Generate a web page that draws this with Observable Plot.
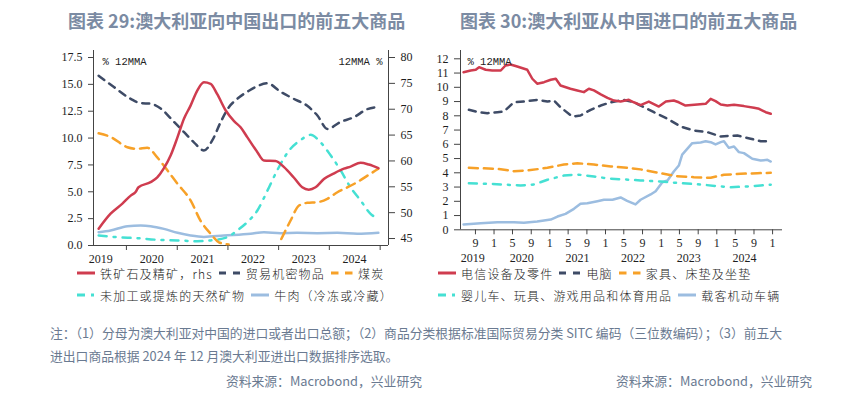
<!DOCTYPE html>
<html><head><meta charset="utf-8">
<script src="https://cdn.jsdelivr.net/npm/d3@7"></script>
<script src="https://cdn.jsdelivr.net/npm/@observablehq/plot@0.6"></script>
<style>
body{margin:0;background:#fff;}
#root{position:relative;width:853px;height:397px;overflow:hidden;background:#fff;font-family:"Noto Sans CJK SC","Noto Sans",sans-serif;}
.title{position:absolute;top:7px;line-height:26px;font-size:18px;font-weight:bold;color:#7b8ba3;white-space:nowrap;}
.chart{position:absolute;top:0;}
.legend{position:absolute;display:flex;align-items:center;height:18px;font-size:12px;font-weight:300;letter-spacing:1.2px;color:#222;white-space:nowrap;}
.legend svg{display:block;margin-right:5px;flex:none;}
.legend .item{display:flex;align-items:center;margin-right:6px;}
.note{position:absolute;font-size:12.8px;line-height:18px;color:#6a7a91;white-space:nowrap;}
</style></head><body><div id="root"></div>
<script>
// ---------- DATA: exports to China (left chart) ----------
const exportNames = ["铁矿石及精矿，rhs","贸易机密物品","煤炭","未加工或提炼的天然矿物","牛肉（冷冻或冷藏）"];
const ironOre = [["2019-06-15",46.9],["2019-09-09",49.8],["2019-12-03",51.75],["2020-02-01",53.3],["2020-03-07",54.0],["2020-03-28",54.9],["2020-06-23",55.9],["2020-08-10",56.8],["2020-09-25",58.5],["2020-11-15",61.1],["2021-01-03",64.6],["2021-02-19",68.2],["2021-04-07",70.7],["2021-05-25",73.6],["2021-07-12",75.2],["2021-08-29",74.9],["2021-10-16",72.9],["2021-12-15",69.8],["2022-02-14",67.7],["2022-04-02",66.5],["2022-05-20",64.6],["2022-08-01",61.7],["2022-09-17",60.1],["2022-12-10",60.0],["2023-02-09",58.8],["2023-04-20",56.8],["2023-06-20",54.9],["2023-08-06",54.45],["2023-09-24",54.9],["2023-11-23",56.5],["2024-02-04",57.6],["2024-04-15",58.5],["2024-06-02",58.9],["2024-08-13",59.65],["2024-10-12",59.3],["2024-12-19",58.6]];
const confidential = [["2019-06-15",15.8],["2019-10-03",14.75],["2020-02-01",13.65],["2020-04-12",13.25],["2020-06-23",13.2],["2020-09-04",12.75],["2020-12-09",11.5],["2021-02-19",10.55],["2021-05-01",9.6],["2021-07-12",8.85],["2021-09-11",9.8],["2021-11-10",11.5],["2022-01-09",12.9],["2022-03-09",13.65],["2022-06-01",14.4],["2022-07-19",14.75],["2022-10-12",15.1],["2023-01-16",14.3],["2023-04-20",13.65],["2023-07-26",13.0],["2023-10-07",12.1],["2023-12-18",10.85],["2024-03-22",11.5],["2024-06-27",11.95],["2024-10-01",12.7],["2024-12-19",12.9]];
const coal = [["2019-06-15",10.45],["2019-09-09",10.1],["2020-01-08",9.15],["2020-03-19",9.0],["2020-05-30",9.1],["2020-08-10",8.2],["2020-10-22",7.0],["2021-01-03",5.75],["2021-04-07",4.2],["2021-06-18",2.3],["2021-08-29",1.1],["2021-10-28",0.3],["2022-01-06",0.1],["2022-06-01",null],["2023-01-20",0.6],["2023-03-27",2.3],["2023-05-26",3.7],["2023-07-26",3.97],["2023-10-07",4.03],["2023-12-18",4.35],["2024-02-28",4.96],["2024-05-09",5.4],["2024-07-20",5.9],["2024-10-01",6.5],["2024-12-19",7.15]];
const minerals = [["2019-06-15",0.93],["2019-10-27",0.77],["2020-03-19",0.68],["2020-08-10",0.53],["2021-01-03",0.47],["2021-05-25",0.4],["2021-08-29",0.47],["2021-12-27",0.77],["2022-03-09",1.4],["2022-05-20",2.17],["2022-08-01",3.26],["2022-10-12",5.1],["2022-12-22",7.0],["2023-03-27",9.0],["2023-06-07",9.8],["2023-08-18",10.3],["2023-10-30",9.6],["2024-01-10",8.4],["2024-03-22",7.0],["2024-06-02",5.4],["2024-08-13",4.2],["2024-10-24",2.95],["2024-12-19",2.5]];
const beef = [["2019-06-15",1.24],["2019-09-09",1.4],["2020-01-08",1.8],["2020-04-12",1.86],["2020-06-23",1.8],["2020-09-27",1.55],["2021-01-03",1.18],["2021-04-07",0.93],["2021-07-12",0.8],["2021-12-03",0.93],["2022-06-13",1.09],["2022-09-17",1.24],["2023-01-16",1.15],["2023-05-15",1.18],["2023-10-07",1.15],["2024-02-28",1.18],["2024-07-20",1.09],["2024-12-19",1.18]];

// ---------- DATA: imports from China (right chart) ----------
const importNames = ["电信设备及零件","电脑","家具、床垫及坐垫","婴儿车、玩具、游戏用品和体育用品","载客机动车辆"];
const telecom = [["2019-06-15",11.06],["2019-08-01",11.18],["2019-09-03",11.23],["2019-09-25",11.41],["2019-11-07",11.23],["2019-12-20",11.18],["2020-02-14",11.18],["2020-03-16",11.53],["2020-04-18",11.6],["2020-06-01",11.46],["2020-08-06",11.23],["2020-09-08",10.6],["2020-10-10",10.25],["2020-11-24",10.36],["2021-01-07",10.53],["2021-02-09",10.6],["2021-03-12",10.13],["2021-05-16",9.9],["2021-06-30",9.78],["2021-08-12",9.66],["2021-09-14",9.9],["2021-10-17",9.78],["2021-12-01",9.5],["2022-01-14",9.26],["2022-02-26",9.07],["2022-04-10",9.0],["2022-06-03",9.12],["2022-07-06",8.95],["2022-08-19",8.75],["2022-10-12",9.0],["2022-12-17",8.65],["2023-02-01",9.0],["2023-03-25",9.07],["2023-04-27",8.95],["2023-06-10",8.72],["2023-08-26",8.79],["2023-10-20",8.84],["2023-11-22",9.19],["2023-12-24",9.03],["2024-01-27",8.79],["2024-03-10",8.72],["2024-04-23",8.77],["2024-06-27",8.68],["2024-09-01",8.56],["2024-10-04",8.49],["2024-11-17",8.25],["2024-12-20",8.14]];
const computers = [["2019-07-20",8.42],["2019-09-25",8.25],["2019-11-18",8.18],["2020-01-23",8.25],["2020-03-06",8.3],["2020-05-10",8.95],["2020-07-15",9.0],["2020-10-10",9.12],["2020-12-16",9.0],["2021-01-29",9.07],["2021-03-12",8.6],["2021-05-28",7.95],["2021-07-21",8.02],["2021-09-26",8.42],["2021-12-01",8.72],["2022-02-05",8.95],["2022-05-01",9.12],["2022-07-06",8.95],["2022-08-19",8.72],["2022-11-15",8.25],["2023-02-12",7.79],["2023-05-08",7.25],["2023-08-04",6.97],["2023-11-01",6.85],["2024-01-27",6.55],["2024-05-15",6.62],["2024-08-10",6.39],["2024-10-15",6.22],["2024-12-20",6.2]];
const furniture = [["2019-07-20",4.35],["2020-01-23",4.28],["2020-05-10",4.11],["2020-08-06",4.16],["2020-12-16",4.35],["2021-04-03",4.58],["2021-06-30",4.67],["2021-10-17",4.58],["2022-02-05",4.44],["2022-05-23",4.35],["2022-08-19",4.24],["2022-12-29",3.97],["2023-04-16",3.76],["2023-08-04",3.69],["2023-11-22",3.65],["2024-02-17",3.86],["2024-06-05",3.93],["2024-09-23",3.97],["2024-12-20",4.0]];
const toys = [["2019-07-20",3.27],["2019-11-18",3.23],["2020-03-27",3.16],["2020-06-23",3.11],["2020-09-19",3.18],["2020-12-16",3.51],["2021-04-03",3.81],["2021-06-30",3.88],["2021-10-17",3.74],["2022-02-05",3.58],["2022-06-14",3.51],["2022-08-19",3.46],["2022-12-29",3.39],["2023-05-08",3.27],["2023-09-17",3.18],["2024-01-05",3.06],["2024-04-01",2.99],["2024-07-19",3.04],["2024-10-15",3.11],["2024-12-20",3.16]];
const vehicles = [["2019-06-15",0.37],["2019-10-05",0.46],["2020-01-23",0.53],["2020-05-10",0.53],["2020-07-15",0.49],["2020-10-10",0.58],["2021-01-07",0.72],["2021-02-20",0.93],["2021-04-14",1.12],["2021-06-08",1.47],["2021-07-21",1.82],["2021-09-04",1.87],["2021-11-09",2.01],["2021-12-22",2.11],["2022-02-16",2.11],["2022-04-10",2.27],["2022-05-23",2.03],["2022-07-17",1.78],["2022-08-19",2.11],["2022-10-24",2.48],["2022-11-26",2.71],["2023-01-09",3.34],["2023-02-12",3.46],["2023-03-25",4.09],["2023-04-27",4.51],["2023-05-19",5.28],["2023-06-21",5.68],["2023-07-24",6.08],["2023-09-17",6.13],["2023-10-20",6.22],["2023-11-22",6.15],["2023-12-24",5.99],["2024-01-27",6.15],["2024-02-17",6.22],["2024-03-20",5.75],["2024-04-23",5.85],["2024-05-25",5.45],["2024-06-27",5.38],["2024-08-21",4.98],["2024-10-15",4.86],["2024-11-28",4.91],["2024-12-20",4.79]];

// ---------- TICKS & TEXT ----------
const lhsTicks = [0,2.5,5,7.5,10,12.5,15,17.5];
const rhsTicks = [45,50,55,60,65,70,75,80];
const importTicks = [0,1,2,3,4,5,6,7,8,9,10,11,12];
const yearLabels = [2019,2020,2021,2022,2023,2024];
const yearBounds = [2020,2021,2022,2023,2024,2025];
const monthTicks = ["2019-09","2020-01","2020-05","2020-09","2021-01","2021-05","2021-09","2022-01","2022-05","2022-09","2023-01","2023-05","2023-09","2024-01","2024-05","2024-09","2025-01"];
const titleLeft = "图表 29:澳大利亚向中国出口的前五大商品";
const titleRight = "图表 30:澳大利亚从中国进口的前五大商品";
const unitLeft = "% 12MMA", unitRight = "12MMA %";
const noteLines = ["注：（1）分母为澳大利亚对中国的进口或者出口总额；（2）商品分类根据标准国际贸易分类 SITC 编码（三位数编码）；（3）前五大","进出口商品根据 2024 年 12 月澳大利亚进出口数据排序选取。"];
const sourceText = "资料来源：Macrobond，兴业研究";

// ---------- STYLES ----------
const colors = ["#cf3c4f","#3e4b66","#f7a128","#45e0d3","#9cbde0"];
const dashes = [null,"7,6","9,6","8,7,2,7",null];
const swatchDash = [null,"7,7","7.5,6.5","8,6,3,10",null];
const swatchW = [18,22,22,18,18];

const parse = s => new Date((s.length === 7 ? s + "-01" : s) + "T00:00:00Z");
const rows = arr => arr.map(([d, v]) => ({date: parse(d), value: v}));

const RHS_BASE = 43.65, RHS_PER_LHS = 36.35 / 17.5;
const toLhs = v => v == null ? null : (v - RHS_BASE) / RHS_PER_LHS;

const root = document.getElementById("root");
function add(html, cls, css) { const d = document.createElement("div"); d.className = cls; d.textContent = html; Object.assign(d.style, css); root.appendChild(d); return d; }

add(titleLeft, "title", {left: "68px"});
add(titleRight, "title", {left: "460px"});

const plotStyle = {fontFamily: '"Liberation Serif", serif', fontSize: "12px", color: "#1e1e1e", background: "transparent", overflow: "visible"};
const unitStyle = {fontFamily: '"Liberation Mono", monospace', fontSize: 10.5, fill: "#222"};

function lineMark(data, i, yFn, curve) {
  return Plot.line(rows(data), {x: "date", y: yFn, stroke: colors[i], strokeWidth: 2.5, strokeDasharray: dashes[i], curve});
}

// ---------- LEFT CHART ----------
const xL = [parse("2019-05-09"), parse("2025-03-02")];
const leftSeries = [ironOre, confidential, coal, minerals, beef];
const left = Plot.plot({
  width: 430, height: 270, marginTop: 50, marginBottom: 25, marginLeft: 93, marginRight: 42,
  x: {type: "utc", domain: xL, axis: null},
  y: {domain: [0, 17.5 * 195 / 188], axis: null},
  style: plotStyle,
  marks: [
    Plot.ruleX(xL, {stroke: "#444"}),
    Plot.ruleY([0], {stroke: "#444"}),
    ...leftSeries.map((s, i) => i === 0 ? lineMark(s, i, d => toLhs(d.value), "monotone-x") : lineMark(s, i, "value", "monotone-x")).reverse(),
    Plot.axisY({ticks: lhsTicks, tickFormat: d => d.toFixed(1), tickSize: 5, tickPadding: 6, stroke: "#444", label: null}),
    Plot.axisY({anchor: "right", ticks: rhsTicks.map(toLhs), tickFormat: d => String(Math.round(RHS_BASE + d * RHS_PER_LHS)), tickSize: 6, tickPadding: 6, stroke: "#444", label: null}),
    Plot.axisX({ticks: yearBounds.map(y => parse(y + "-01-01")), tickSize: 5, tickFormat: () => "", stroke: "#444", label: null}),
    Plot.axisX({ticks: yearLabels.map(y => parse(y + "-07-01")), tickSize: 0, tickPadding: 9, tickFormat: d => String(d.getUTCFullYear()), label: null}),
    Plot.text([unitLeft], {text: d => d, frameAnchor: "top-left", dx: 9, dy: 7, textAnchor: "start", ...unitStyle}),
    Plot.text([unitRight], {text: d => d, frameAnchor: "top-right", dx: -6, dy: 7, textAnchor: "end", ...unitStyle})
  ]
});
left.classList.add("chart"); left.style.left = "0px"; root.appendChild(left);

// ---------- RIGHT CHART ----------
const xR = [parse("2019-05-26"), parse("2025-03-07")];
const rightSeries = [telecom, computers, furniture, toys, vehicles];
const yearPos = y => y === 2019 ? parse("2019-08-15") : parse(y + "-07-01");
const right = Plot.plot({
  width: 423, height: 270, marginTop: 50, marginBottom: 40.7, marginLeft: 30, marginRight: 71,
  x: {type: "utc", domain: xR, axis: null},
  y: {domain: [0, 12 * 179.3 / 171], axis: null},
  style: plotStyle,
  marks: [
    Plot.ruleX([xR[0]], {stroke: "#444"}),
    Plot.ruleY([0], {stroke: "#444"}),
    ...rightSeries.map((s, i) => lineMark(s, i, "value", "linear")).reverse(),
    Plot.axisY({ticks: importTicks, tickFormat: d => String(d), tickSize: 6, tickPadding: 6, stroke: "#444", label: null}),
    Plot.axisX({ticks: monthTicks.map(parse), tickSize: 5, tickPadding: 4, tickFormat: d => String(d.getUTCMonth() + 1), stroke: "#444", label: null}),
    Plot.axisX({ticks: yearLabels.map(yearPos), tickSize: 0, tickPadding: 24, tickFormat: d => String(d.getUTCFullYear()), label: null}),
    Plot.text([unitLeft], {text: d => d, frameAnchor: "top-left", dx: 7, dy: 7, textAnchor: "start", ...unitStyle})
  ]
});
right.classList.add("chart"); right.style.left = "430px"; root.appendChild(right);

// ---------- LEGENDS ----------
function legend(names, idxs, x, top) {
  const d = document.createElement("div");
  d.className = "legend"; d.style.left = x + "px"; d.style.top = top + "px";
  idxs.forEach(i => {
    const it = document.createElement("div"); it.className = "item";
    const w = swatchW[i];
    it.innerHTML = `<svg width="${w}" height="10"><line x1="0" y1="5" x2="${w}" y2="5" stroke="${colors[i]}" stroke-width="3" ${swatchDash[i] ? `stroke-dasharray="${swatchDash[i]}"` : ""}/></svg><span>${names[i]}</span>`;
    d.appendChild(it);
  });
  root.appendChild(d);
}
legend(exportNames, [0,1,2], 77, 264);
legend(exportNames, [3,4], 77, 286);
legend(importNames, [0,1,2], 438, 264);
legend(importNames, [3,4], 438, 286);

// ---------- NOTES ----------
add(noteLines[0], "note", {left: "50px", top: "324px"});
add(noteLines[1], "note", {left: "50px", top: "347px"});
add(sourceText, "note", {right: "431px", top: "372px"});
add(sourceText, "note", {right: "41px", top: "372px"});
</script></body></html>
